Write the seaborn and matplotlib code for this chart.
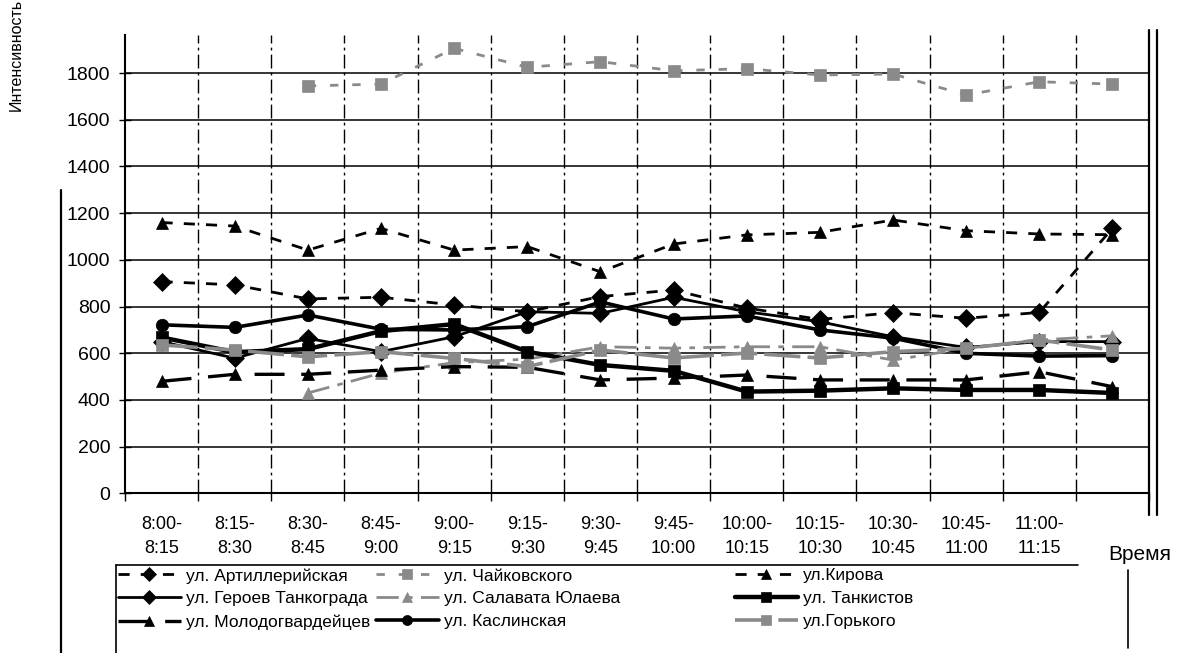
import numpy as np
import pandas as pd
import matplotlib
matplotlib.use("Agg")
import matplotlib.pyplot as plt
from matplotlib.lines import Line2D
import seaborn as sns

# Time slots (the last slot has no caption on the axis)
periods = ["8:00-\n8:15", "8:15-\n8:30", "8:30-\n8:45", "8:45-\n9:00", "9:00-\n9:15",
           "9:15-\n9:30", "9:30-\n9:45", "9:45-\n10:00", "10:00-\n10:15", "10:15-\n10:30",
           "10:30-\n10:45", "10:45-\n11:00", "11:00-\n11:15", ""]

nan = np.nan
artilleriyskaya = [907, 893, 833, 840, 807, 778, 843, 871, 794, 745, 774, 750, 775, 1135]
chaykovskogo = [nan, nan, 1745, 1753, 1906, 1825, 1849, 1810, 1819, 1792, 1796, 1706, 1763, 1753]
kirova = [1160, 1145, 1042, 1135, 1042, 1057, 949, 1068, 1107, 1118, 1171, 1125, 1111, 1108]
geroev_tankograda = [650, 579, 664, 607, 671, 778, 771, 840, 778, 735, 671, 625, 650, 650]
salavata_yulaeva = [nan, nan, 430, 515, 560, 575, 628, 622, 628, 628, 571, 621, 657, 675]
tankistov = [668, 605, 618, 695, 725, 607, 550, 525, 436, 440, 450, 443, 443, 430]
molodogvardeytsev = [480, 510, 510, 528, 543, 540, 486, 494, 507, 486, 486, 486, 521, 457]
kaslinskaya = [722, 711, 764, 703, 700, 714, 820, 747, 760, 700, 665, 600, 588, 590]
gorkogo = [636, 614, 585, 607, 578, 543, 614, 580, 601, 580, 607, 621, 657, 614]

street_names = ["ул. Артиллерийская", "ул. Чайковского", "ул.Кирова",
                "ул. Героев Танкограда", "ул. Салавата Юлаева", "ул. Танкистов",
                "ул. Молодогвардейцев", "ул. Каслинская", "ул.Горького"]
street_values = [artilleriyskaya, chaykovskogo, kirova,
                 geroev_tankograda, salavata_yulaeva, tankistov,
                 molodogvardeytsev, kaslinskaya, gorkogo]

BLACK = "#000000"
GRAY = "#8a8a8a"
# colour, marker, marker size, line style, line width
styles = [
    (BLACK, "D", 9, (0, (4, 4)), 2.0),
    (GRAY, "s", 9, (0, (3, 5)), 2.0),
    (BLACK, "^", 9, (0, (4, 4)), 2.0),
    (BLACK, "D", 9, "-", 2.0),
    (GRAY, "^", 9, (0, (8, 3, 2, 3)), 2.0),
    (BLACK, "s", 9, "-", 3.2),
    (BLACK, "^", 9, (0, (9, 5)), 2.4),
    (BLACK, "o", 9, "-", 2.6),
    (GRAY, "s", 9, (0, (10, 2)), 2.6),
]

sns.set_theme(style="white")
plt.rcParams["font.family"] = ["Liberation Sans", "DejaVu Sans"]

W, H = 1179, 653
fig = plt.figure(figsize=(W / 100, H / 100), dpi=100)
x0, x1, y0, y1 = 125, 1149, 493.4, 35
ax = fig.add_axes([x0 / W, 1 - y0 / H, (x1 - x0) / W, (y0 - y1) / H])

n = len(periods)
slots = np.arange(n)
handles = []
for name, vals, (col, mk, ms, ls, lw) in zip(street_names, street_values, styles):
    d = pd.DataFrame({"slot": slots, "value": vals}).dropna()
    sns.lineplot(data=d, x="slot", y="value", ax=ax, color=col, marker=mk,
                 markersize=ms, markerfacecolor=col, markeredgecolor=col,
                 markeredgewidth=0.5, linestyle=ls, linewidth=lw,
                 estimator=None, errorbar=None, sort=False, legend=False, zorder=3)
    handles.append(ax.lines[-1])

ax.set_xlim(-0.5, n - 0.5)
ax.set_ylim(0, (y0 - y1) / 0.2335)
ax.set_yticks(np.arange(0, 1801, 200))
ax.set_xticks(slots)
ax.set_xticklabels(periods)
ax.set_xticks(np.arange(-0.5, n, 1.0), minor=True)
ax.set_xlabel("")
ax.set_ylabel("")

# Grid: solid horizontals, dash-dot verticals at slot boundaries
ax.yaxis.grid(True, color=BLACK, linewidth=1.1)
ax.xaxis.grid(False)
for b in np.arange(0.5, n - 1, 1.0):
    ax.axvline(b, color=BLACK, linewidth=1.0, linestyle=(0, (10, 3, 2, 3)), zorder=1)
ax.set_axisbelow(True)

for s in ["top", "right"]:
    ax.spines[s].set_visible(False)
for s in ["left", "bottom"]:
    ax.spines[s].set_color(BLACK)
    ax.spines[s].set_linewidth(1.5)

ax.tick_params(axis="y", which="major", direction="inout", length=9, width=1,
               color=BLACK, labelsize=14, pad=6, labelcolor=BLACK, left=True)
ax.tick_params(axis="x", which="major", length=0, labelsize=13, pad=16, labelcolor=BLACK)
ax.tick_params(axis="x", which="minor", direction="out", length=6, width=1,
               color=BLACK, bottom=True)
for t in ax.get_xticklabels():
    t.set_linespacing(1.6)

fig.text(16 / W, 1 - 55 / H, "Интенсивность", rotation=90, ha="center", va="center",
         fontsize=11.5, color=BLACK)
fig.text(1140 / W, 1 - 555 / H, "Время", ha="center", va="center",
         fontsize=15, color=BLACK)

# Legend: three columns filled row by row
col_x = [118, 376, 735]
for c in range(3):
    idx = [c, c + 3, c + 6]
    fig.legend([handles[i] for i in idx], [street_names[i] for i in idx],
               loc="upper left", bbox_to_anchor=(col_x[c] / W, 1 - 568 / H),
               bbox_transform=fig.transFigure, frameon=False, fontsize=12.5,
               handlelength=3.6, handletextpad=0.3, labelspacing=0.45,
               markerscale=0.8, borderpad=0, borderaxespad=0, numpoints=1,
               labelcolor=BLACK)

def fig_line(xs, ys, lw=1.2):
    fig.add_artist(Line2D([x / W for x in xs], [1 - y / H for y in ys],
                          transform=fig.transFigure, color=BLACK, linewidth=lw))

# Frame lines around the plot and legend
fig_line([1149, 1149], [30, 515], 1.6)
fig_line([1157, 1157], [30, 515], 1.6)
fig_line([61, 61], [190, 653], 1.6)
fig_line([116, 1078], [565, 565], 1.2)
fig_line([116, 116], [565, 653], 1.2)
fig_line([1128, 1128], [570, 648], 1.2)

fig.savefig("out.png", dpi=100, facecolor="white")
